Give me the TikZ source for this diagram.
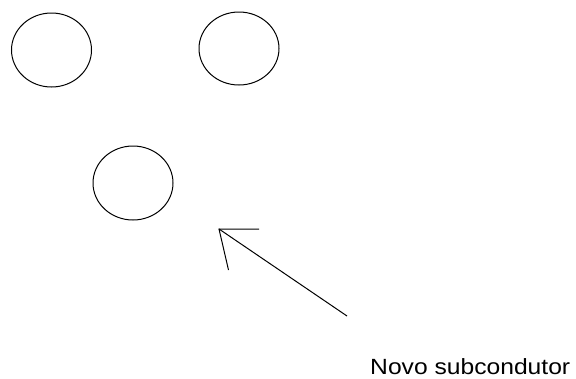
\documentclass[tikz,border=0pt]{standalone}
\usepackage{fontspec}
\setmainfont{Liberation Sans}
\begin{document}
\begin{tikzpicture}[x=1pt,y=-1pt,
  cond/.style={draw=black,line width=1pt},
  ln/.style={draw=black,line width=1pt},
  lbl/.style={anchor=base west,inner sep=0pt,text depth=0pt,font=\fontsize{22}{24}\selectfont,xscale=1.12}]
\useasboundingbox (0,0) rectangle (576,378);
\draw[cond] (51.5,50) ellipse [x radius=40, y radius=37];
\draw[cond] (239,48.5) ellipse [x radius=40, y radius=36.5];
\draw[cond] (133,183) ellipse [x radius=40, y radius=37];
\coordinate (tip) at (219,229);
\coordinate (tail) at (347,316);
\coordinate (barbA) at (259,229);
\coordinate (barbB) at (228.5,270);
\draw[ln] (tail) -- (tip);
\draw[ln] (barbA) -- (tip) -- (barbB);
\node[lbl] (label) at (370,374.5) {Novo subcondutor};
\end{tikzpicture}
\end{document}
